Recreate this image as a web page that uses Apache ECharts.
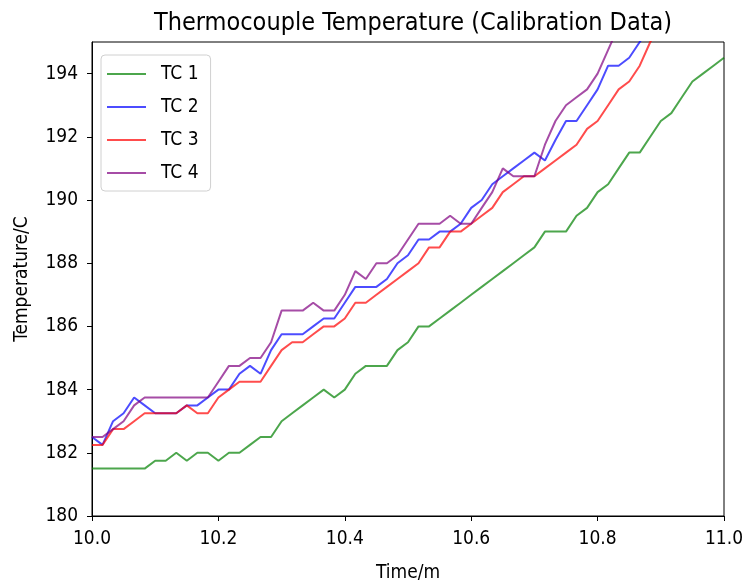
<!DOCTYPE html>
<html>
<head>
<meta charset="utf-8">
<script src="https://cdn.jsdelivr.net/npm/echarts@6/dist/echarts.min.js"></script>
<style>
html,body{margin:0;padding:0;background:#fff;}
#chart{width:748px;height:588px;}
</style>
</head>
<body>
<div id="chart"></div>
<script>
// Time in minutes: 10.0 to 11.0, one sample per second (1/60 min)
const timeStart = 10;
const timeStep = 1 / 60;

const tc1 = [181.5,181.5,181.5,181.5,181.5,181.5,181.75,181.75,182,181.75,
  182,182,181.75,182,182,182.25,182.5,182.5,183,183.25,
  183.5,183.75,184,183.75,184,184.5,184.75,184.75,184.75,185.25,
  185.5,186,186,186.25,186.5,186.75,187,187.25,187.5,187.75,
  188,188.25,188.5,189,189,189,189.5,189.75,190.25,190.5,
  191,191.5,191.5,192,192.5,192.75,193.25,193.75,194,194.25,194.5];

const tc2 = [182.5,182.25,183,183.25,183.75,183.5,183.25,183.25,183.25,183.5,
  183.5,183.75,184,184,184.5,184.75,184.5,185.25,185.75,185.75,
  185.75,186,186.25,186.25,186.75,187.25,187.25,187.25,187.5,188,
  188.25,188.75,188.75,189,189,189.25,189.75,190,190.5,190.75,
  191,191.25,191.5,191.25,191.9,192.5,192.5,193,193.5,194.25,
  194.25,194.5,195,195.5];

const tc3 = [182.25,182.25,182.75,182.75,183,183.25,183.25,183.25,183.25,183.5,
  183.25,183.25,183.75,184,184.25,184.25,184.25,184.75,185.25,185.5,
  185.5,185.75,186,186,186.25,186.75,186.75,187,187.25,187.5,
  187.75,188,188.5,188.5,189,189,189.25,189.5,189.75,190.25,
  190.5,190.75,190.75,191,191.25,191.5,191.75,192.25,192.5,193,
  193.5,193.75,194.25,195,195.5];

const tc4 = [182.5,182.5,182.75,183,183.5,183.75,183.75,183.75,183.75,183.75,
  183.75,183.75,184.25,184.75,184.75,185,185,185.5,186.5,186.5,
  186.5,186.75,186.5,186.5,187,187.75,187.5,188,188,188.25,
  188.75,189.25,189.25,189.25,189.5,189.25,189.25,189.75,190.25,191,
  190.75,190.75,190.75,191.75,192.5,193,193.25,193.5,194,194.75,195.5];

const seriesNames = ['TC 1', 'TC 2', 'TC 3', 'TC 4'];
const seriesColors = ['#008000', '#0000ff', '#ff0000', '#800080'];
const xTicks = [10.0, 10.2, 10.4, 10.6, 10.8, 11.0];
const yTicks = [180, 182, 184, 186, 188, 190, 192, 194];

const FONT = '"DejaVu Sans Condensed", "DejaVu Sans", sans-serif';
function pairs(vals) {
  return vals.map((v, i) => [timeStart + i * timeStep, v]);
}
const allData = [tc1, tc2, tc3, tc4];

const chart = echarts.init(document.getElementById('chart'), null, {renderer: 'canvas'});
chart.setOption({
  animation: false,
  backgroundColor: '#ffffff',
  title: {
    text: 'Thermocouple Temperature (Calibration Data)',
    left: 408, top: 6, textAlign: 'center',
    textStyle: {fontFamily: FONT, fontSize: 25, fontWeight: 'normal', color: '#000'}
  },
  grid: {left: 92, right: 24, top: 42, bottom: 69, show: true, borderColor: '#000', borderWidth: 1, backgroundColor: 'transparent'},
  legend: {
    orient: 'vertical', left: 101, top: 55,
    padding: [9, 12, 8, 6],
    icon: 'rect',
    itemWidth: 39, itemHeight: 2, itemGap: 13,
    borderColor: '#d0d0d0', borderWidth: 1, borderRadius: 4,
    backgroundColor: 'rgba(255,255,255,0.8)',
    textStyle: {fontFamily: FONT, fontSize: 19, color: '#000', lineHeight: 20, padding: [0, 0, 0, 10]},
    data: seriesNames
  },
  xAxis: {
    type: 'value', min: 10, max: 11, interval: 0.2,
    name: 'Time/m', nameLocation: 'middle', nameGap: 48,
    nameTextStyle: {fontFamily: FONT, fontSize: 19, color: '#000'},
    axisLine: {show: true, lineStyle: {color: '#000', width: 1}},
    axisTick: {show: true, length: 5, lineStyle: {color: '#000'}, customValues: xTicks},
    axisLabel: {fontFamily: FONT, fontSize: 19, color: '#000', margin: 14, customValues: xTicks,
      formatter: v => Number(v).toFixed(1)},
    splitLine: {show: false}
  },
  yAxis: {
    type: 'value', min: 180, max: 195, interval: 2,
    name: 'Temperature/C', nameLocation: 'middle', nameGap: 60,
    nameTextStyle: {fontFamily: FONT, fontSize: 19, color: '#000'},
    axisLine: {show: true, lineStyle: {color: '#000', width: 1}},
    axisTick: {show: true, length: 5, lineStyle: {color: '#000'}, customValues: yTicks},
    axisLabel: {fontFamily: FONT, fontSize: 19, color: '#000', margin: 14, customValues: yTicks},
    splitLine: {show: false}
  },
  series: seriesNames.map((name, i) => ({
    name: name, type: 'line', symbol: 'none', clip: true,
    data: pairs(allData[i]),
    itemStyle: {color: seriesColors[i], opacity: 0.7},
    lineStyle: {color: seriesColors[i], width: 2, opacity: 0.7}
  }))
});
</script>
</body>
</html>
